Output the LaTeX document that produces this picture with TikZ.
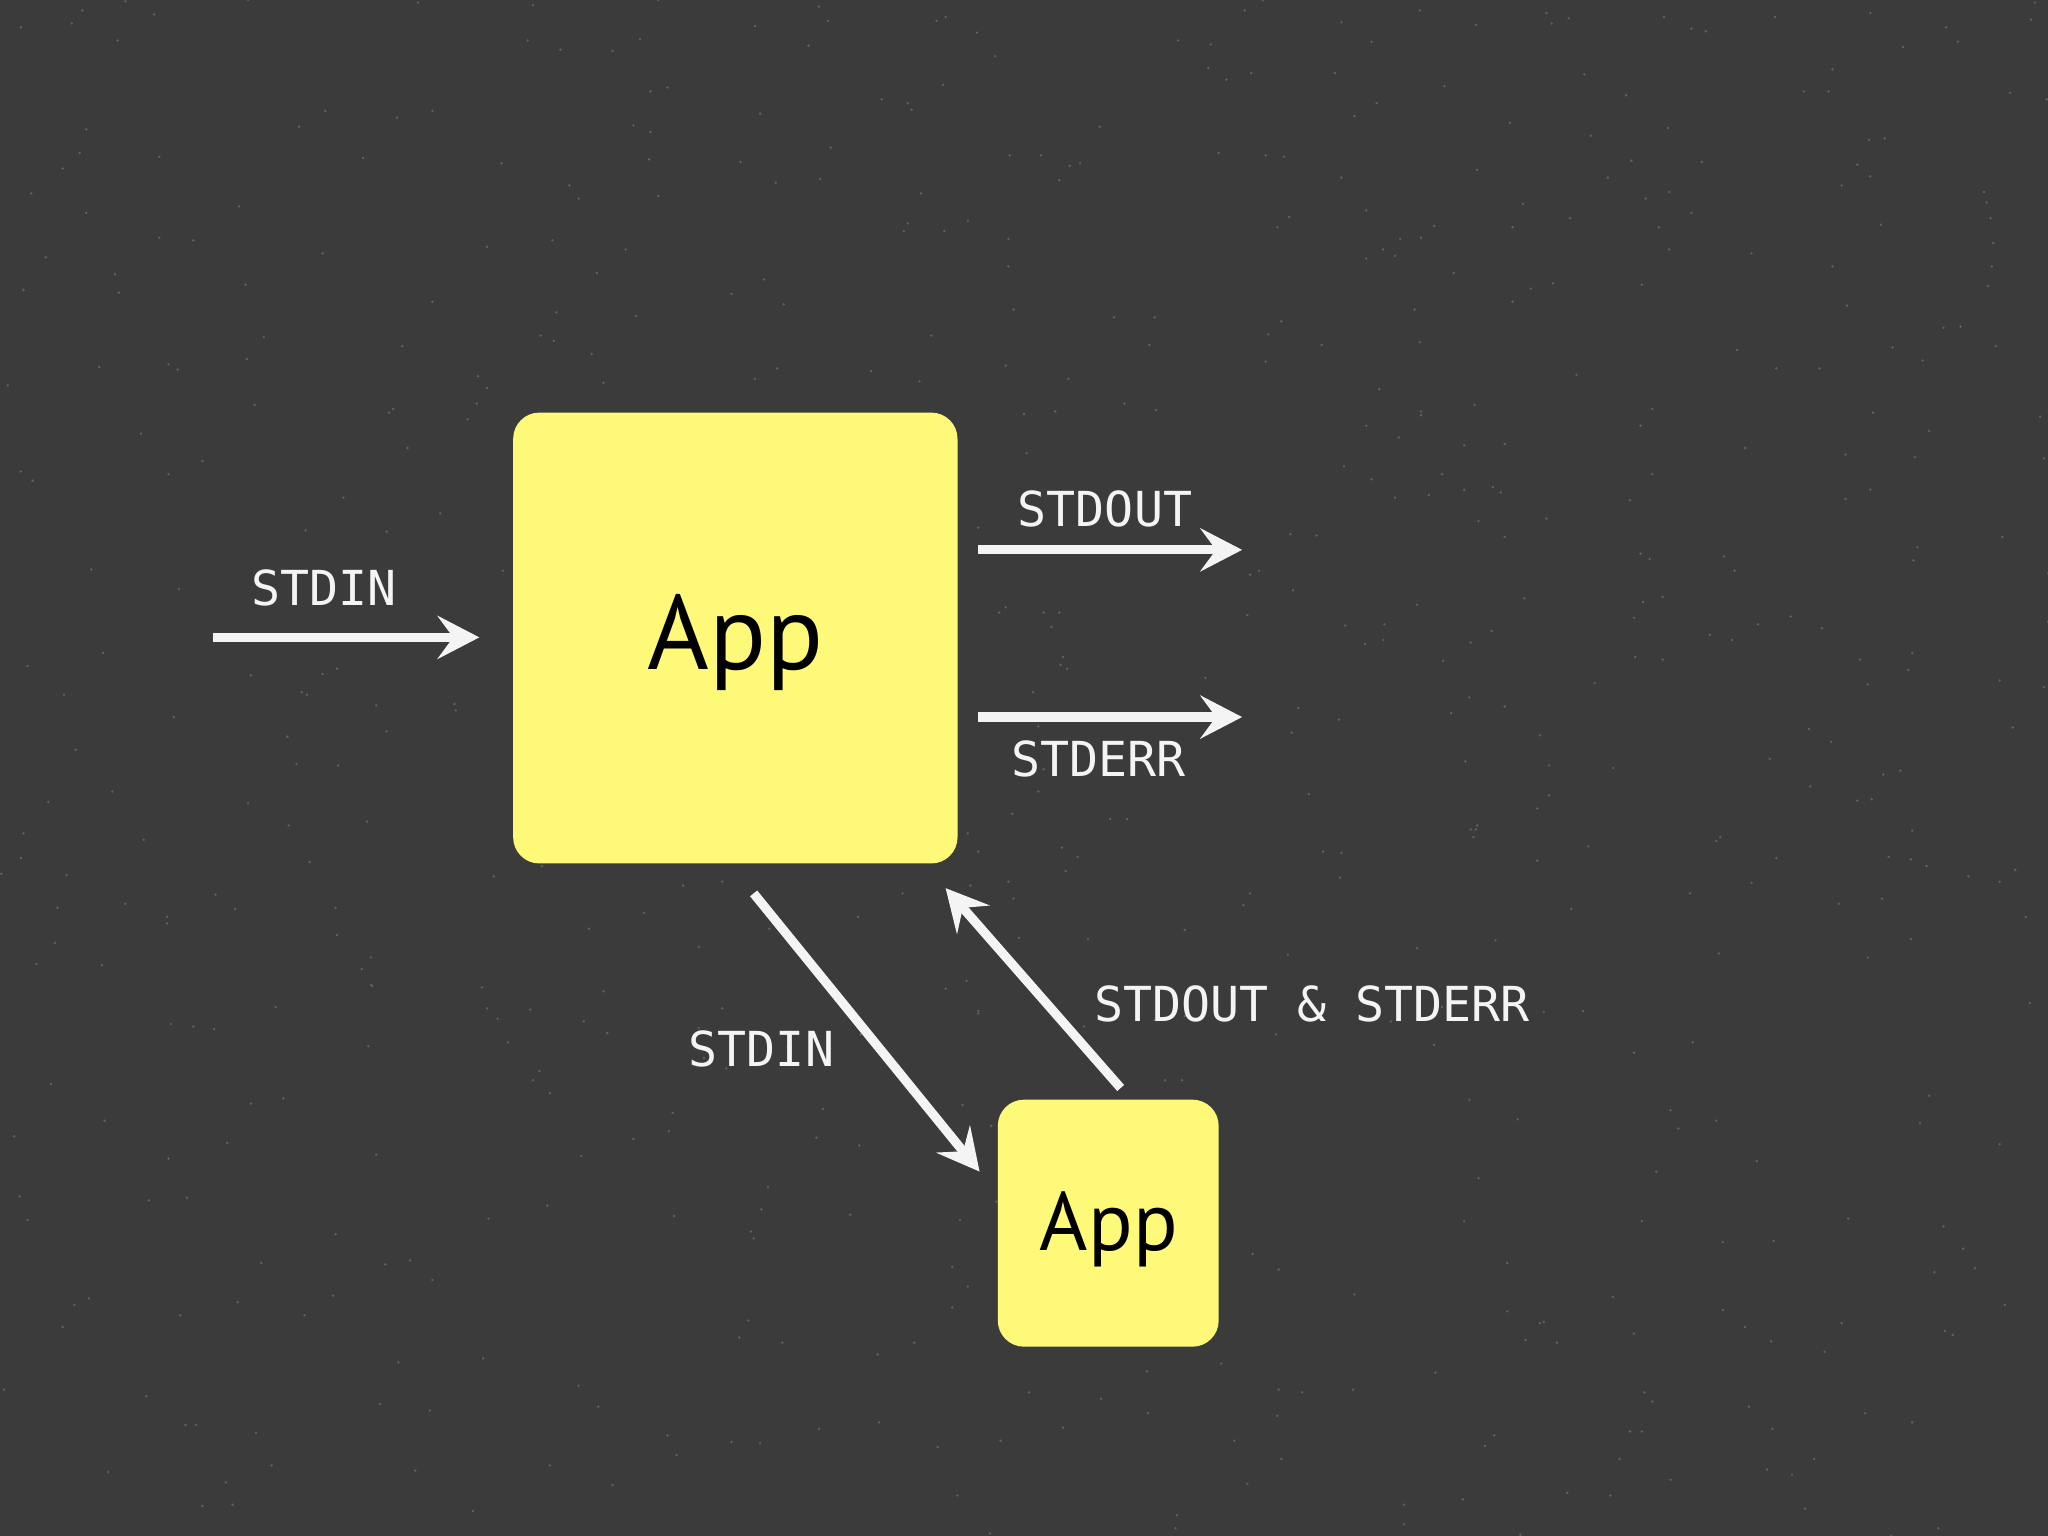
\documentclass[tikz,border=0pt]{standalone}
\usepackage{fontspec}
\usetikzlibrary{arrows.meta}
\newfontfamily\lblfont{DejaVu Sans Mono}
\newfontfamily\appfont{PT Sans}
\definecolor{bgcol}{RGB}{60,59,59}
\definecolor{boxcol}{RGB}{255,249,122}
\definecolor{lblcol}{RGB}{244,244,244}
\tikzset{
  appbox/.style={fill=boxcol, rounded corners=0.2cm, inner sep=0pt},
  applabel/.style={text=black, inner sep=0pt},
  flowlbl/.style={text=lblcol, font=\lblfont\fontsize{10.5}{12}\selectfont, inner sep=0pt},
  flow/.style={draw=lblcol, line width=2pt,
    -{Stealth[length=0.32cm,width=0.33cm,inset=0.12cm]}},
  speck/.style={fill=white, opacity=0.2}
}
\begin{document}
\begin{tikzpicture}[x=0.01cm,y=-0.01cm]
\fill[bgcol] (0,0) rectangle (1568,1176);
\useasboundingbox (0,0) rectangle (1568,1176);
\pgfmathsetseed{7}
\foreach \i in {1,...,700}{
  \pgfmathsetmacro{\sx}{random(0,1568)}
  \pgfmathsetmacro{\sy}{random(0,1176)}
  \fill[speck] (\sx,\sy) circle (1);
}

% boxes
\node[appbox, minimum width=3.40cm, minimum height=3.45cm] (big) at (563,488.5) {};
\node[applabel, font=\appfont\fontsize{23}{26}\selectfont] (bigtxt) at (563,492) {App};
\node[appbox, minimum width=1.69cm, minimum height=1.89cm] (small) at (848.5,936.5) {};
\node[applabel, font=\appfont\fontsize{18}{21}\selectfont] (smalltxt) at (849,941) {App};

% end points
\coordinate (inL) at (163,488);
\coordinate (inR) at (367,488);
\coordinate (outL) at (749,421);
\coordinate (outR) at (951,421);
\coordinate (errL) at (749,549);
\coordinate (errR) at (951,549);
\coordinate (d1s) at (577,684);
\coordinate (d1e) at (750,897);
\coordinate (d2s) at (858,833);
\coordinate (d2e) at (724,680);

\draw[flow] (inL) -- (inR);
\draw[flow] (outL) -- (outR);
\draw[flow] (errL) -- (errR);
\draw[flow] (d1s) -- (d1e);
\draw[flow] (d2s) -- (d2e);

% labels
\node[flowlbl] (l1) at (248,450) {STDIN};
\node[flowlbl] (l2) at (846,390) {STDOUT};
\node[flowlbl] (l3) at (841,581) {STDERR};
\node[flowlbl] (l4) at (583,803) {STDIN};
\node[flowlbl, anchor=west] (l5) at (837,769) {STDOUT \& STDERR};
\end{tikzpicture}
\end{document}
